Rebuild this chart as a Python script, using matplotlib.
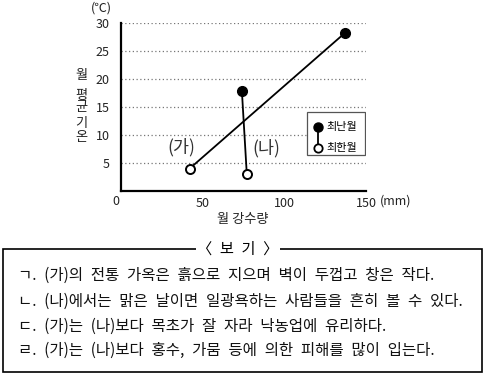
import matplotlib
matplotlib.use("Agg")
import matplotlib.pyplot as plt
from matplotlib.patches import Rectangle
from matplotlib.lines import Line2D

plt.rcParams['font.family'] = ['Noto Sans CJK KR', 'DejaVu Sans']

# ---- data: (precip mm, temp C) for warmest / coldest month
regions = ["(가)", "(나)"]
warm_precip = [137, 74]
warm_temp = [28.2, 17.9]
cold_precip = [42, 77]
cold_temp = [4.0, 3.1]
label_pos = [(37, 7.9), (89, 7.7)]

xticks = [50, 100, 150]
yticks = [5, 10, 15, 20, 25, 30]

bogi_title = "〈 보 기 〉"
bogi_lines = [
    "ㄱ. (가)의 전통 가옥은 흙으로 지으며 벽이 두껍고 창은 작다.",
    "ㄴ. (나)에서는 맑은 날이면 일광욕하는 사람들을 흔히 볼 수 있다.",
    "ㄷ. (가)는 (나)보다 목초가 잘 자라 낙농업에 유리하다.",
    "ㄹ. (가)는 (나)보다 홍수, 가뭄 등에 의한 피해를 많이 입는다.",
]

W, H = 491, 380
fig = plt.figure(figsize=(W / 100, H / 100), dpi=100)
ax = fig.add_axes([121 / W, 1 - 191 / H, 245 / W, 168 / H])

ax.set_xlim(0, 150)
ax.set_ylim(0, 30)
ax.set_xticks(xticks)
ax.set_yticks(yticks)
ax.tick_params(length=0, labelsize=9, colors='#222222')
ax.tick_params(axis='y', pad=8)
ax.tick_params(axis='x', pad=4)
for s in ['top', 'right']:
    ax.spines[s].set_visible(False)
for s in ['left', 'bottom']:
    ax.spines[s].set_linewidth(1.6)
ax.yaxis.grid(True, linestyle=(0, (1, 2)), color='#777777', linewidth=0.9)
ax.set_axisbelow(True)

for i in range(len(regions)):
    ax.plot([cold_precip[i], warm_precip[i]], [cold_temp[i], warm_temp[i]],
            color='black', lw=1.3, zorder=3)
    ax.plot(warm_precip[i], warm_temp[i], 'o', ms=7, color='black', zorder=4)
    ax.plot(cold_precip[i], cold_temp[i], 'o', ms=6.5, mfc='white', mec='black',
            mew=1.4, zorder=4)
    ax.text(label_pos[i][0], label_pos[i][1], regions[i], fontsize=12.5,
            ha='center', va='center', color='#333333')

# axis annotations
ax.text(-3, -1.9, "0", transform=ax.transData, fontsize=9, ha='center',
        va='center', color='#222222', clip_on=False)
fig.text(380 / W, 1 - 201 / H, "(mm)", fontsize=9, ha='left', va='center', color='#222222')
fig.text(101 / W, 1 - 8 / H, "(℃)", fontsize=9, ha='center', va='center', color='#222222')
fig.text(243 / W, 1 - 220 / H, "월 강수량", fontsize=9.5, ha='center', va='center', color='#222222')
for ch, yy in zip("월평균기온", [76, 95, 108, 124, 137]):
    fig.text(81 / W, 1 - yy / H, ch, fontsize=9.5, ha='center', va='center', color='#222222')

# legend box
ax.add_patch(Rectangle((0.758, 0.214), 0.238, 0.258, transform=ax.transAxes,
                       facecolor='white', edgecolor='#555555', lw=0.9, zorder=5))
ax.add_line(Line2D([0.805, 0.805], [0.383, 0.254], transform=ax.transAxes,
                   color='black', lw=1.3, zorder=6))
ax.plot([0.805], [0.383], 'o', ms=6.5, color='black', transform=ax.transAxes, zorder=7)
ax.plot([0.805], [0.254], 'o', ms=6, mfc='white', mec='black', mew=1.3,
        transform=ax.transAxes, zorder=7)
ax.text(0.84, 0.383, "최난월", transform=ax.transAxes, fontsize=8, va='center', zorder=7)
ax.text(0.84, 0.254, "최한월", transform=ax.transAxes, fontsize=8, va='center', zorder=7)

# 보기 box
fig.add_artist(Rectangle((3 / W, 1 - 372 / H), 479 / W, 123 / H, transform=fig.transFigure,
                         facecolor='none', edgecolor='black', lw=1.2))
fig.text(238 / W, 1 - 249 / H, bogi_title.replace(" ", "\u2002"), fontsize=11,
         ha='center', va='center',
         bbox=dict(facecolor='white', edgecolor='none', pad=1))
for line, yy in zip(bogi_lines, [275, 301, 326, 350]):
    fig.text(18 / W, 1 - yy / H, line.replace(" ", "\u2002"), fontsize=11.2,
             ha='left', va='center', color='#111111')

fig.savefig("out.png", dpi=100)
